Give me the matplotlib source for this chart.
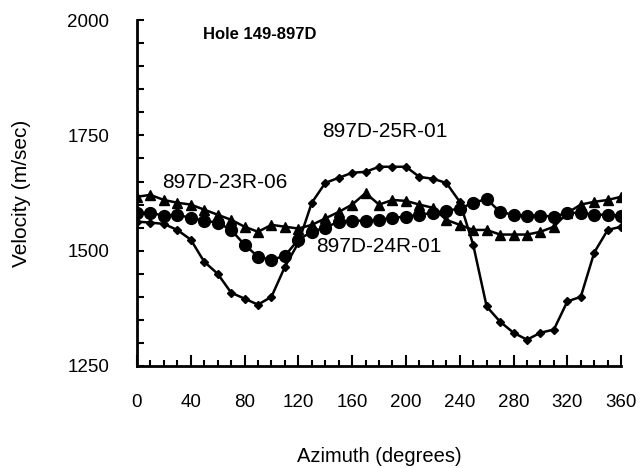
import matplotlib
matplotlib.use("Agg")
import matplotlib.pyplot as plt

azimuth = list(range(0, 361, 10))

# 897D-25R-01 (diamonds)
v25r = [1563, 1561, 1558, 1545, 1524, 1476, 1450, 1409, 1396, 1383,
        1400, 1465, 1517, 1604, 1647, 1658, 1669, 1671, 1682, 1682,
        1682, 1660, 1656, 1647, 1606, 1513, 1379, 1346, 1322, 1307,
        1322, 1329, 1390, 1400, 1496, 1545, 1552]
# 897D-24R-01 (circles)
v24r = [1582, 1582, 1576, 1578, 1571, 1565, 1561, 1545, 1513, 1487,
        1480, 1489, 1524, 1541, 1550, 1563, 1565, 1565, 1567, 1571,
        1574, 1578, 1582, 1587, 1591, 1604, 1612, 1584, 1578, 1576,
        1576, 1574, 1582, 1582, 1578, 1578, 1576]
# 897D-23R-06 (triangles)
v23r = [1617, 1621, 1610, 1604, 1600, 1589, 1578, 1567, 1552, 1541,
        1556, 1552, 1548, 1556, 1570, 1584, 1600, 1625, 1600, 1610,
        1608, 1600, 1593, 1567, 1556, 1545, 1545, 1535, 1535, 1535,
        1541, 1552, 1582, 1600, 1606, 1610, 1617]

plt.rcParams["font.family"] = ["Liberation Sans", "DejaVu Sans"]

fig = plt.figure(figsize=(6.43, 4.68), dpi=100)
ax = fig.add_axes([0.213, 0.218, 0.753, 0.739])

ax.plot(azimuth, v25r, color="black", lw=1.8, marker="D", ms=4)
ax.plot(azimuth, v24r, color="black", lw=1.8, marker="o", ms=8.5)
ax.plot(azimuth, v23r, color="black", lw=1.8, marker="^", ms=7)

ax.set_xlim(0, 360)
ax.set_ylim(1250, 2000)
ax.set_xticks(range(0, 361, 40))
ax.set_xticks(range(0, 361, 10), minor=True)
ax.set_yticks([1250, 1500, 1750, 2000])
ax.set_yticks(range(1250, 2001, 50), minor=True)
ax.tick_params(which="both", direction="in", width=1.5, color="black")
ax.tick_params(labelsize=13.5)
ax.tick_params(axis="x", which="major", length=8, pad=20)
ax.tick_params(axis="x", which="minor", length=4)
ax.tick_params(axis="y", which="both", length=5)
ax.tick_params(axis="y", which="major", pad=20)
for side in ("top", "right"):
    ax.spines[side].set_visible(False)
for side in ("left", "bottom"):
    ax.spines[side].set_linewidth(2)

ax.set_xlabel("Azimuth (degrees)", fontsize=14.5, labelpad=26)
ax.set_ylabel("Velocity (m/sec)", fontsize=15, labelpad=26)

ax.text(49, 1968, "Hole 149-897D", fontsize=12, fontweight="bold", va="center")
ax.text(184, 1758, "897D-25R-01", fontsize=15, ha="center", va="center")
ax.text(65, 1647, "897D-23R-06", fontsize=15, ha="center", va="center")
ax.text(180, 1509, "897D-24R-01", fontsize=15, ha="center", va="center")

fig.savefig("out.png", dpi=100)
